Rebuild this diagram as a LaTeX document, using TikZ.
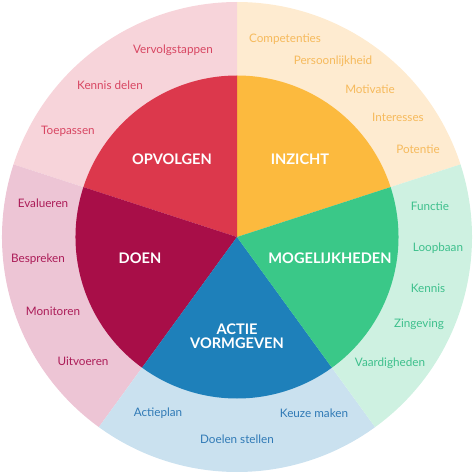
\documentclass[tikz,border=0pt]{standalone}
\usepackage{fontspec}
\setmainfont{Lato}
\definecolor{opvred}{RGB}{220, 56, 76}
\definecolor{doencrim}{RGB}{168, 14, 72}
\definecolor{actblue}{RGB}{30, 128, 186}
\definecolor{mogreen}{RGB}{58, 200, 136}
\definecolor{inzorange}{RGB}{252, 186, 62}
\definecolor{opvlight}{RGB}{247, 212, 218}
\definecolor{doenlight}{RGB}{237, 197, 213}
\definecolor{actlight}{RGB}{202, 225, 239}
\definecolor{moglight}{RGB}{206, 241, 225}
\definecolor{inzlight}{RGB}{254, 235, 208}
\definecolor{opvtext}{RGB}{216, 70, 98}
\definecolor{doentext}{RGB}{172, 28, 88}
\definecolor{acttext}{RGB}{48, 122, 182}
\definecolor{mogtext}{RGB}{62, 192, 140}
\definecolor{inztext}{RGB}{246, 186, 92}
\usetikzlibrary{positioning, calc}

\tikzset{
  mainlabel/.style={font=\fontsize{14.6}{16.5}\selectfont\bfseries, text=white, align=center},
  sublabel/.style={font=\fontsize{11.7}{13}\selectfont, inner sep=0pt}
}

\begin{document}
\begin{tikzpicture}[x=1pt, y=1pt]
  \useasboundingbox (-237, -237) rectangle (237, 237);

  % Outer ring
  \fill[inzlight] (0, 0) -- (18:235) arc (18:90:235) -- cycle;
  \fill[opvlight] (0, 0) -- (90:235) arc (90:162:235) -- cycle;
  \fill[doenlight] (0, 0) -- (162:235) arc (162:234:235) -- cycle;
  \fill[actlight] (0, 0) -- (234:235) arc (234:306:235) -- cycle;
  \fill[moglight] (0, 0) -- (306:235) arc (306:378:235) -- cycle;

  % Inner pie
  \fill[inzorange] (0, 0) -- (18:161.5) arc (18:90:161.5) -- cycle;
  \fill[opvred] (0, 0) -- (90:161.5) arc (90:162:161.5) -- cycle;
  \fill[doencrim] (0, 0) -- (162:161.5) arc (162:234:161.5) -- cycle;
  \fill[actblue] (0, 0) -- (234:161.5) arc (234:306:161.5) -- cycle;
  \fill[mogreen] (0, 0) -- (306:161.5) arc (306:378:161.5) -- cycle;

  % Phases
  \node[mainlabel] (opvolgen) at (-65, 78) {OPVOLGEN};
  \node[mainlabel] (inzicht) at (63, 78) {INZICHT};
  \node[mainlabel] (doen) at (-97, -21) {DOEN};
  \node[mainlabel] (mogelijk) at (93, -21) {MOGELIJKHEDEN};
  \node[mainlabel] (actie) at (0, -99) {ACTIE\\[-3pt]VORMGEVEN};

  % Opvolgen
  \node[sublabel, opvtext] (vervolg) at (-64, 187) {Vervolgstappen};
  \node[sublabel, opvtext] (kennisdelen) at (-127, 152) {Kennis delen};
  \node[sublabel, opvtext] (toepassen) at (-169, 106) {Toepassen};

  % Doen
  \node[sublabel, doentext] (evalueren) at (-194, 34) {Evalueren};
  \node[sublabel, doentext] (bespreken) at (-199, -22) {Bespreken};
  \node[sublabel, doentext] (monitoren) at (-184, -74) {Monitoren};
  \node[sublabel, doentext] (uitvoeren) at (-154, -124) {Uitvoeren};

  % Actie vormgeven
  \node[sublabel, acttext] (actieplan) at (-79, -176) {Actieplan};
  \node[sublabel, acttext] (doelen) at (0, -202) {Doelen stellen};
  \node[sublabel, acttext] (keuze) at (77, -176) {Keuze maken};

  % Mogelijkheden
  \node[sublabel, mogtext] (functie) at (193, 31) {Functie};
  \node[sublabel, mogtext] (loopbaan) at (201, -11) {Loopbaan};
  \node[sublabel, mogtext] (kennis) at (191, -51) {Kennis};
  \node[sublabel, mogtext] (zingeving) at (182, -87) {Zingeving};
  \node[sublabel, mogtext] (vaardig) at (153, -126) {Vaardigheden};

  % Inzicht
  \node[sublabel, inztext] (compet) at (48, 198) {Competenties};
  \node[sublabel, inztext] (persoon) at (96, 176) {Persoonlijkheid};
  \node[sublabel, inztext] (motivatie) at (133, 148) {Motivatie};
  \node[sublabel, inztext] (interesses) at (161, 120) {Interesses};
  \node[sublabel, inztext] (potentie) at (181, 88) {Potentie};
\end{tikzpicture}
\end{document}
